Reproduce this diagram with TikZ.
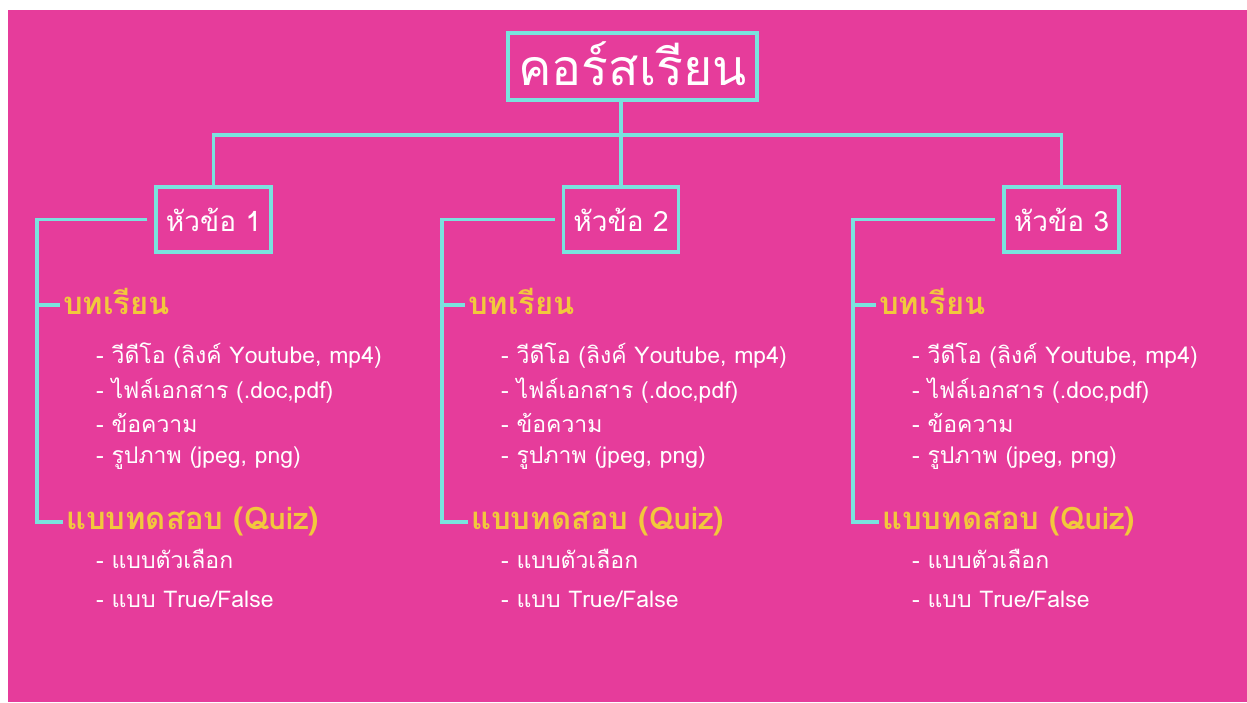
\documentclass[tikz,border=0pt]{standalone}
\usepackage{fontspec}
\newfontfamily\thaifont[Script=Thai]{Loma}
\definecolor{bgpink}{RGB}{230,60,155}
\definecolor{linecyan}{RGB}{122,226,222}
\definecolor{headyellow}{RGB}{242,200,60}
\tikzset{
  conn/.style={linecyan, line width=3.5pt},
  titlebox/.style={draw=linecyan, line width=3.5pt, text=white, inner sep=0pt,
    minimum width=249pt, text height=52pt, text depth=15pt,
    font=\thaifont\fontsize{50}{60}\selectfont},
  topicbox/.style={draw=linecyan, line width=3.5pt, text=white, inner sep=0pt,
    minimum width=115pt, text height=44pt, text depth=21pt,
    font=\thaifont\fontsize{28}{34}\selectfont},
  headtext/.style={text=headyellow, inner sep=0pt, anchor=base west,
    font=\thaifont\bfseries\fontsize{31}{37}\selectfont},
  itemtext/.style={text=white, inner sep=0pt, anchor=base west,
    font=\thaifont\fontsize{23}{28}\selectfont}
}
\begin{document}
\begin{tikzpicture}[x=1pt, y=-1pt]
	% Page frame and pink card
	\useasboundingbox (0,0) rectangle (1247,702);
	\fill[white] (0,0) rectangle (1247,702);
	\fill[bgpink] (8,10) rectangle (1247,702);
	
	% Course title
	\node[titlebox] (course) at (632.5,66.5) {คอร์สเรียน};
	
	% Topic boxes
	\foreach \i/\tx in {1/213.5, 2/621, 3/1061.5}
		\node[topicbox] (t\i) at (\tx,219.5) {หัวข้อ \i};
	
	% Bus from the title down to the topics
	\coordinate (bus) at (622,135);
	\draw[conn] (t2.north |- course.south) -- (t2.north);
	\draw[conn] (t1.north) -- (t1.north |- bus) -- (t3.north |- bus) -- (t3.north);
	
	% One column per topic: lessons and quiz
	\foreach \i/\lx in {1/37, 2/442, 3/853} {
		\coordinate (br\i) at (\lx,219.5);
		\node[headtext] (les\i) at (\lx+26,314) {บทเรียน};
		\node[headtext] (quiz\i) at (\lx+29,529) {แบบทดสอบ (Quiz)};
		\foreach \yy/\txt [count=\k] in {363/{- วีดีโอ (ลิงค์ Youtube, mp4)},
				398/{- ไฟล์เอกสาร (.doc,pdf)}, 432/{- ข้อความ},
				463/{- รูปภาพ (jpeg, png)}}
			\node[itemtext] (item\i-\k) at (\lx+59,\yy) {\txt};
		\foreach \yy/\txt [count=\k] in {568/{- แบบตัวเลือก}, 607/{- แบบ True/False}}
			\node[itemtext] (sub\i-\k) at (\lx+59,\yy) {\txt};
		% Branch from the topic box
		\draw[conn] ([xshift=-7pt]t\i.west) -- (br\i) |- ([shift={(-3pt,7pt)}]quiz\i.base west);
		\draw[conn] (br\i) |- ([shift={(-3pt,9pt)}]les\i.base west);
	}
\end{tikzpicture}
\end{document}
